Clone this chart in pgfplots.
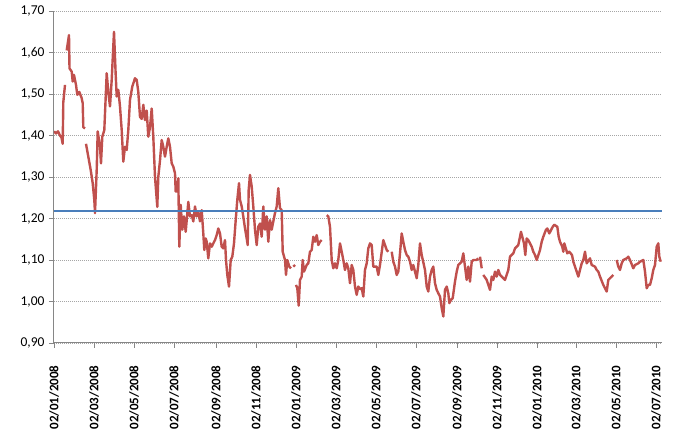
\documentclass[border=0pt]{standalone}
\usepackage{pgfplots}
\pgfplotsset{compat=1.18}
\usepackage{pgfplotstable}
\usepackage{fontspec}
\setmainfont{Carlito}
\definecolor{xlred}{HTML}{C0504D}
\definecolor{xlblue}{HTML}{4A7EBB}
\definecolor{axgray}{HTML}{868686}
\definecolor{gridgray}{HTML}{A6A6A6}

% x = observation index (about 20 per month), y = ratio; nan = gap in the series
\pgfplotstableread{
x y
0 1.410
2 1.405
4 1.410
6 1.400
7.5 1.395
8.7 1.380
9.3 1.480
11 1.522
nan nan
12.7 1.605
15 1.642
15.5 1.562
16 1.560
17.7 1.554
18.7 1.530
20 1.546
22 1.522
23.3 1.498
25.3 1.505
27.7 1.490
28.7 1.478
29.3 1.420
31 1.417
nan nan
32 1.380
34.3 1.349
36.7 1.317
38.7 1.285
40.3 1.245
41 1.213
42.7 1.317
43.7 1.410
46 1.373
47 1.333
48.3 1.397
50.3 1.413
52.7 1.550
54.3 1.505
56 1.470
57.7 1.534
60 1.650
61.7 1.546
62.7 1.494
64.3 1.510
66 1.470
67.7 1.413
69.3 1.337
71 1.373
72.7 1.365
74.3 1.413
76 1.486
78.3 1.518
81 1.538
82.7 1.534
84.3 1.505
86 1.445
87.7 1.440
89.3 1.474
91 1.437
92.7 1.460
94.3 1.397
96 1.420
97.7 1.465
99.3 1.397
101 1.300
103.3 1.228
104.3 1.300
106 1.340
107.7 1.389
109.3 1.373
111 1.349
112.7 1.373
114.3 1.393
116 1.373
117.7 1.333
119.3 1.325
121 1.309
121.7 1.265
123.7 1.265
124.3 1.297
125.3 1.132
126.7 1.233
128.3 1.173
130 1.205
131.7 1.168
134.3 1.240
136 1.205
137.7 1.208
139.3 1.193
141 1.229
142.7 1.205
144.3 1.217
146 1.193
147.7 1.220
149.3 1.164
150.3 1.124
151.7 1.152
152.7 1.144
154.3 1.104
156 1.140
157.7 1.132
159.3 1.140
161 1.148
162.7 1.160
164.3 1.176
166 1.164
167.7 1.132
169.3 1.128
171 1.148
172 1.100
173.3 1.064
175 1.036
176.7 1.100
178.3 1.108
180 1.140
181.7 1.196
183.3 1.245
185 1.285
186 1.245
187.7 1.229
189.3 1.205
191 1.176
192.7 1.152
193.7 1.136
194.7 1.270
196 1.305
197.7 1.277
199.3 1.229
201 1.173
202.7 1.136
204.3 1.180
206 1.188
207.7 1.156
209.3 1.229
211 1.173
212.7 1.205
214.3 1.144
216 1.196
217.7 1.173
219.3 1.193
221 1.213
222.7 1.229
224.3 1.273
226 1.225
227.7 1.220
228.7 1.120
231 1.100
232 1.064
233.3 1.100
235.3 1.084
237 1.080
nan nan
239.3 1.084
241 1.088
nan nan
242 1.040
243.3 1.032
244.7 0.990
246 1.052
247.7 1.060
248.7 1.100
250 1.072
252.7 1.088
254.3 1.092
256 1.120
257.7 1.124
259.3 1.156
261 1.144
262.7 1.160
264.3 1.136
266 1.144
267.7 1.148
nan nan
272.7 1.208
274.3 1.205
276 1.180
277.7 1.100
279.3 1.080
281 1.092
282.7 1.080
284.3 1.100
286 1.140
287.7 1.120
289.3 1.100
291 1.076
292.7 1.092
294.3 1.080
296 1.044
297.7 1.088
299.3 1.076
301 1.036
302.7 1.016
304.3 1.036
306 1.030
307.7 1.032
309.3 1.012
311 1.076
312.7 1.092
314.3 1.128
316 1.140
317.7 1.136
319.3 1.084
322.7 1.084
324.3 1.064
326 1.088
329.3 1.148
331 1.136
332.7 1.124
334.3 1.120
nan nan
337.7 1.120
339.3 1.096
341 1.084
342.7 1.064
344.3 1.072
346 1.116
347.7 1.164
349.3 1.144
351 1.124
352.7 1.112
354.3 1.108
356 1.096
357.7 1.076
359.3 1.088
362.7 1.056
364.3 1.088
366 1.140
367.7 1.112
371 1.076
372.7 1.036
374.3 1.024
376 1.060
377.7 1.076
379.3 1.084
381 1.044
382.7 1.028
384.3 1.020
386 1.012
387.7 0.984
389.3 0.964
391 1.028
392.7 1.036
394.3 1.020
395.3 0.996
397 1.004
398.7 1.008
401 1.048
402.7 1.072
404.3 1.088
407.7 1.096
409.3 1.116
411 1.084
412.7 1.052
414.3 1.084
416 1.048
417.7 1.096
419.3 1.100
422.7 1.100
424.3 1.104
nan nan
426 1.108
427.7 1.080
nan nan
429.3 1.064
432.7 1.052
436 1.028
437.7 1.060
439.3 1.052
441 1.072
442.7 1.060
444.3 1.076
446 1.064
451 1.052
454.3 1.076
456 1.108
459.3 1.116
461 1.128
464.3 1.136
467 1.168
468.7 1.152
470 1.140
471.3 1.112
472.7 1.152
474.3 1.148
477.7 1.132
479.3 1.120
481 1.112
482.7 1.100
486 1.124
487.7 1.144
489.3 1.156
492 1.173
493.3 1.176
495.3 1.164
498.7 1.180
500.3 1.185
503.3 1.180
504.7 1.156
506 1.144
508.3 1.132
509.3 1.120
510.3 1.140
513.3 1.116
515.3 1.120
518 1.112
519.3 1.096
521 1.084
522.7 1.072
524.3 1.060
526 1.076
527.7 1.092
529.3 1.100
531 1.120
532.7 1.092
536 1.104
537.7 1.088
541 1.084
542.7 1.076
544.3 1.072
546 1.060
549.3 1.040
552.7 1.024
554.3 1.052
557.7 1.060
559.3 1.064
nan nan
562.7 1.100
564.3 1.084
566 1.076
567.7 1.092
569.3 1.100
572.7 1.104
574.3 1.108
576 1.100
579.3 1.080
581 1.088
584.3 1.092
586 1.096
589.3 1.100
591 1.072
592.7 1.032
594.3 1.040
596 1.040
597.7 1.056
599.3 1.076
601 1.088
602.7 1.132
604.3 1.140
605.3 1.108
606.7 1.096
}\ratio

\begin{document}
\begin{tikzpicture}
\path[use as bounding box] (-54pt,-90pt) rectangle (621pt,343pt);
\begin{axis}[
    scale only axis,
    width=608pt, height=332pt,
    xmin=0, xmax=608,
    ymin=0.9, ymax=1.7,
    ytick={0.9,1.0,...,1.75},
    xtick={0,40,80,120,162,202,242,282,322,362,403,443,483,522,562,602},
    xticklabels={02/01/2008,02/03/2008,02/05/2008,02/07/2008,02/09/2008,02/11/2008,
        02/01/2009,02/03/2009,02/05/2009,02/07/2009,02/09/2009,02/11/2009,
        02/01/2010,02/03/2010,02/05/2010,02/07/2010},
    axis lines*=left,
    axis line style={axgray, line width=1pt},
    tick align=outside,
    major tick length=5pt,
    tick style={axgray, line width=0.8pt},
    ymajorgrids,
    major grid style={gridgray, line width=0.8pt, dash pattern=on 1pt off 1pt},
    unbounded coords=jump,
    yticklabel style={font=\fontsize{13.5}{16}\selectfont, black},
    xticklabel style={font=\bfseries\fontsize{13}{16}\selectfont, rotate=90, anchor=east, black},
    xticklabel shift=14pt,
    yticklabel shift=1pt,
    /pgf/number format/.cd, fixed, fixed zerofill, precision=2, use comma, assume math mode=true,
]
\addplot[xlred, line width=2.4pt, line join=round] table[x=x, y=y] {\ratio};
\addplot[xlblue, line width=2pt] coordinates {(0,1.219) (608,1.219)};
\end{axis}
\end{tikzpicture}
\end{document}
